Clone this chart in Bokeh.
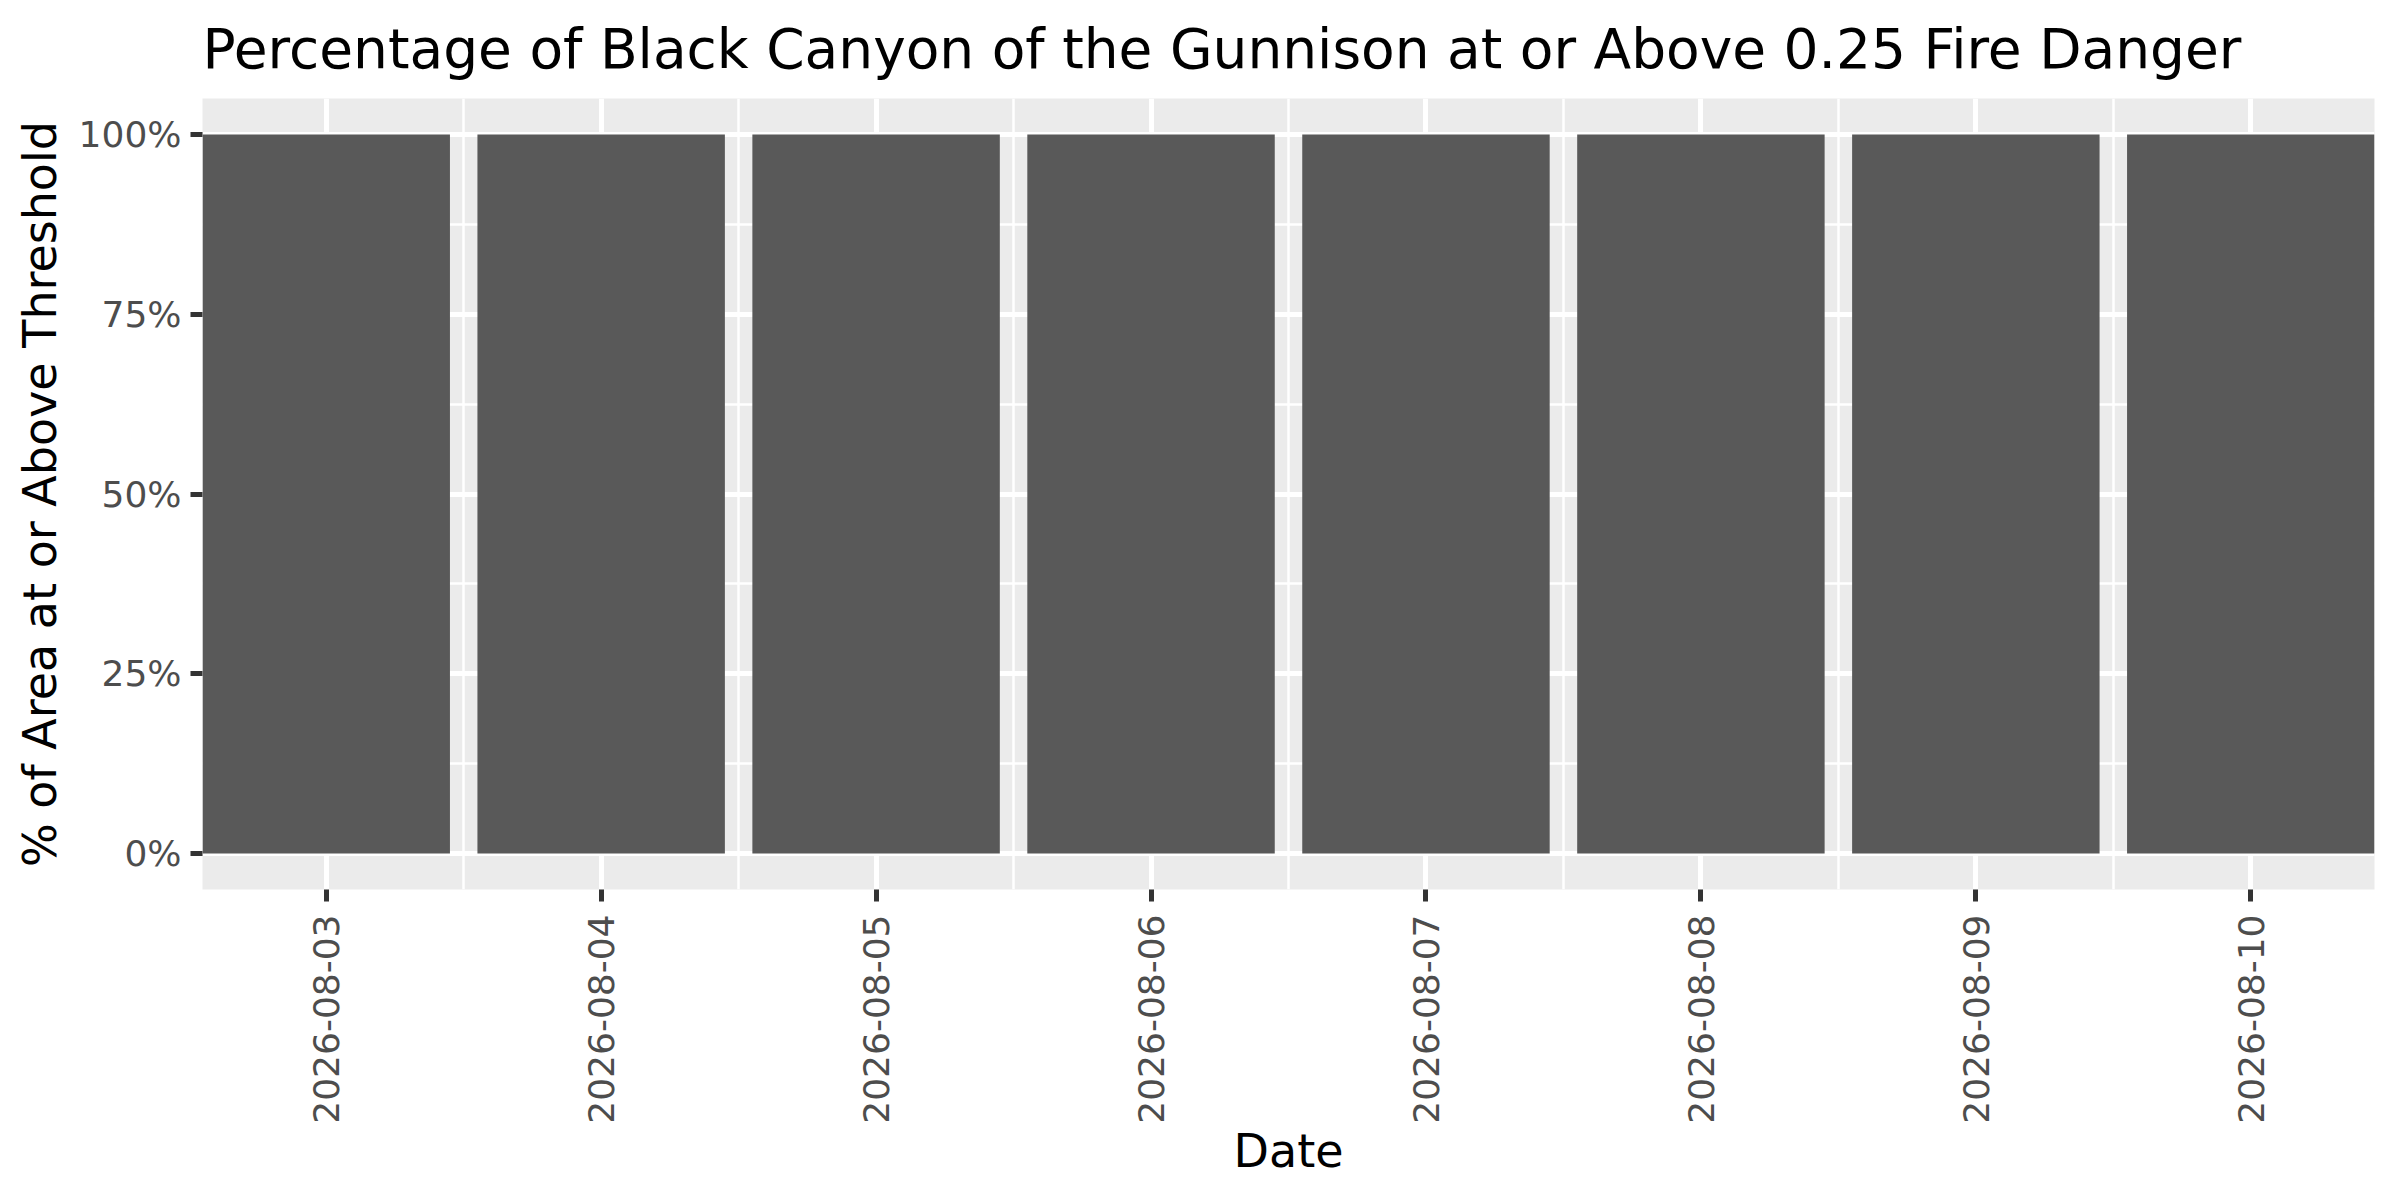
from bokeh.plotting import figure
from bokeh.models import Range1d, FixedTicker, NumeralTickFormatter, ColumnDataSource
from bokeh.embed import file_html
from bokeh.resources import INLINE
import math

# ---- data ----
dates = ["2026-08-03", "2026-08-04", "2026-08-05", "2026-08-06",
         "2026-08-07", "2026-08-08", "2026-08-09", "2026-08-10"]
pct_above = [1.0, 1.0, 1.0, 1.0, 1.0, 1.0, 1.0, 1.0]
y_ticks = [0.0, 0.25, 0.5, 0.75, 1.0]

title_text = "Percentage of Black Canyon of the Gunnison at or Above 0.25 Fire Danger"
x_title = "Date"
y_title = "% of Area at or Above Threshold"

positions = list(range(1, len(dates) + 1))
source = ColumnDataSource(dict(x=positions, top=pct_above, date=dates))

FONT = "DejaVu Sans"

p = figure(width=2392, height=1190, output_backend="svg", toolbar_location=None,
           x_range=Range1d(0.55, len(dates) + 0.45),
           y_range=Range1d(-0.05, 1.05),
           min_border_left=202, min_border_right=18,
           min_border_top=97, min_border_bottom=301)

p.background_fill_color = "#EBEBEB"
p.border_fill_color = "white"
p.outline_line_color = None

p.vbar(x="x", top="top", bottom=0, width=0.9, source=source,
       fill_color="#595959", line_color=None)

# x axis
p.xaxis.ticker = FixedTicker(ticks=positions,
                             minor_ticks=[i + 0.5 for i in positions[:-1]])
p.xaxis.major_label_overrides = {i: d for i, d in zip(positions, dates)}
p.xaxis.major_label_orientation = math.pi / 2
p.xaxis.axis_label = x_title

# y axis
minor_y = [(a + b) / 2 for a, b in zip(y_ticks[:-1], y_ticks[1:])]
p.yaxis.ticker = FixedTicker(ticks=y_ticks, minor_ticks=minor_y)
p.yaxis.formatter = NumeralTickFormatter(format="0%")
p.yaxis.axis_label = y_title

for ax in (p.xaxis[0], p.yaxis[0]):
    ax.axis_line_color = None
    ax.major_tick_line_color = "#333333"
    ax.major_tick_line_width = 5
    ax.major_tick_out = 12
    ax.major_tick_in = 0
    ax.minor_tick_line_color = None
    ax.major_label_text_font = FONT
    ax.major_label_text_font_size = "36px"
    ax.major_label_text_color = "#4D4D4D"
    ax.axis_label_text_font = FONT
    ax.axis_label_text_font_size = "46px"
    ax.axis_label_text_font_style = "normal"
    ax.axis_label_text_color = "black"

p.xaxis.major_label_standoff = 13
p.yaxis.major_label_standoff = 9
p.xaxis.axis_label_standoff = -3
p.yaxis.axis_label_standoff = 9

for g in (p.xgrid[0], p.ygrid[0]):
    g.grid_line_color = "white"
    g.grid_line_width = 5
    g.minor_grid_line_color = "white"
    g.minor_grid_line_width = 2.5

p.title.text = title_text
p.title.text_font = FONT
p.title.text_font_size = "55px"
p.title.text_font_style = "normal"
p.title.text_color = "black"
p.title.align = "left"
p.title.vertical_align = "top"
p.title.standoff = 32

open("out.html", "w").write(file_html(p, INLINE))
